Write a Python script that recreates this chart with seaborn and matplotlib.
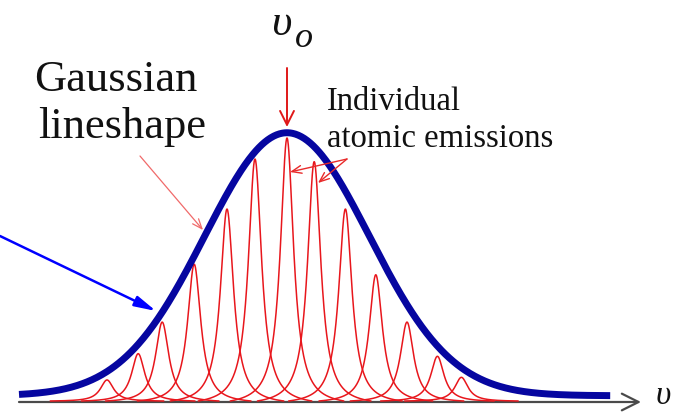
import numpy as np
import pandas as pd
from matplotlib import pyplot as plt
import seaborn as sns

# individual atomic emission lines (frequency offset from nu_0, relative peak height)
line_centers = [-2.25, -1.86, -1.56, -1.16, -0.75, -0.40, 0.00, 0.34, 0.73, 1.11, 1.50, 1.88, 2.18]
line_heights = [0.08, 0.18, 0.30, 0.52, 0.73, 0.92, 1.00, 0.91, 0.73, 0.48, 0.30, 0.17, 0.09]
line_hwhm = 0.10
line_span = 0.71

# gaussian envelope
env_center = 0.0
env_sigma = 1.03
env_amp = 1.0
env_offset = 0.02
env_range = [-3.35, 4.04]

red = '#e8161c'
blue = '#0606a0'

# picture pixel -> data units (x: 80 px per unit, y: 263 px per unit)
X0, XS, Y0, YS = 287, 80, 401, 263
W, H = 685, 415


def px(x, y):
    return ((x - X0) / XS, (Y0 - y) / YS)


rows = []
for i, (c, h) in enumerate(zip(line_centers, line_heights)):
    nu = np.linspace(c - line_span, c + line_span, 400)
    shape = 1 / (1 + ((nu - c) / line_hwhm) ** 2)
    edge = 1 / (1 + (line_span / line_hwhm) ** 2)
    rows.append(pd.DataFrame({'nu': nu, 'I': h * (shape - edge) / (1 - edge), 'line': i}))
df_lines = pd.concat(rows, ignore_index=True)

nu_env = np.linspace(env_range[0], env_range[1], 600)
df_env = pd.DataFrame({'nu': nu_env,
                       'I': env_offset + env_amp * np.exp(-(nu_env - env_center) ** 2 / (2 * env_sigma ** 2))})

sns.set_theme(style='white')
plt.rcParams['font.family'] = ['Liberation Serif', 'DejaVu Serif']

fig = plt.figure(figsize=(W / 100, H / 100), dpi=100)
ax = fig.add_axes([0, 0, 1, 1])

# frequency axis
ax.annotate('', xy=px(641, 402), xytext=px(19, 402),
            arrowprops=dict(arrowstyle='->,head_length=0.6,head_width=0.3', color='#4a4a4a',
                            lw=1.6, shrinkA=0, shrinkB=0, mutation_scale=20), zorder=1)

sns.lineplot(data=df_lines, x='nu', y='I', units='line', estimator=None,
             color=red, lw=1.1, ax=ax, zorder=2)
sns.lineplot(data=df_env, x='nu', y='I', color=blue, lw=5, ax=ax,
             solid_capstyle='butt', zorder=3)

ax.set_xlim(-X0 / XS, (W - X0) / XS)
ax.set_ylim((Y0 - H) / YS, Y0 / YS)
ax.axis('off')

# labels
ink = '#111111'
ax.text(*px(116, 91), 'Gaussian', ha='center', va='baseline', fontsize=32, color=ink)
ax.text(*px(122, 138), 'lineshape', ha='center', va='baseline', fontsize=32, color=ink)
ax.text(*px(327, 110), 'Individual', ha='left', va='baseline', fontsize=23.5, color=ink)
ax.text(*px(327, 147), 'atomic emissions', ha='left', va='baseline', fontsize=23.5, color=ink)
ax.text(*px(271, 35), 'υ', ha='left', va='baseline', fontsize=32, style='italic', color=ink)
ax.text(*px(295, 47), 'o', ha='left', va='baseline', fontsize=26, style='italic', color=ink)
ax.text(*px(656, 396), 'υ', ha='left', va='center', fontsize=24, style='italic', color=ink)

# arrows
ax.annotate('', xy=px(287, 127), xytext=px(287, 68),
            arrowprops=dict(arrowstyle='->,head_length=0.5,head_width=0.25', color='#e01818',
                            lw=1.4, shrinkA=0, shrinkB=0, mutation_scale=20), zorder=4)
ax.annotate('', xy=px(203, 230), xytext=px(140, 156),
            arrowprops=dict(arrowstyle='->,head_length=0.5,head_width=0.2', color='#f06a6a',
                            lw=0.9, shrinkA=0, shrinkB=0, mutation_scale=14), zorder=4)
for tip in [(290, 172), (318, 183)]:
    ax.annotate('', xy=px(*tip), xytext=px(347, 159),
                arrowprops=dict(arrowstyle='->,head_length=0.5,head_width=0.2', color='#e82a2a',
                                lw=1.0, shrinkA=0, shrinkB=0, mutation_scale=14), zorder=4)
ax.annotate('', xy=px(156, 311), xytext=px(0, 236),
            arrowprops=dict(arrowstyle='-|>,head_length=0.8,head_width=0.2', color='#0000ff',
                            lw=1.8, shrinkA=0, shrinkB=0, mutation_scale=16), zorder=4)

plt.savefig('out.png', dpi=100)
